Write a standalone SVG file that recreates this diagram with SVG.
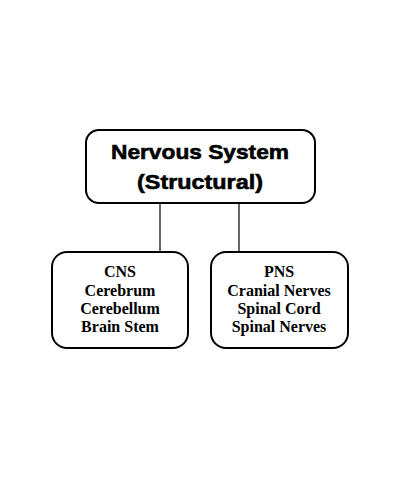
<svg xmlns="http://www.w3.org/2000/svg" width="400" height="480" viewBox="0 0 400 480">
<style>
.box{fill:#fff;stroke:#000;stroke-width:2}
.conn{stroke:#000;stroke-width:1.2;fill:none}
.title{font-family:"Liberation Sans",Arial,sans-serif;font-weight:bold;font-size:21px;text-anchor:middle;fill:#000;stroke:#000;stroke-width:0.6}
.sub{font-family:"Liberation Serif","Times New Roman",serif;font-weight:bold;font-size:16px;text-anchor:middle;fill:#000}
</style>
<rect width="400" height="480" fill="#fff"/>
<g id="connectors">
<line class="conn" x1="160" y1="204" x2="160" y2="252"/>
<line class="conn" x1="239" y1="204" x2="239" y2="252"/>
</g>
<g id="root">
<rect class="box" x="86" y="130" width="229" height="73" rx="13"/>
<text class="title" x="200" y="159" textLength="178" lengthAdjust="spacingAndGlyphs">Nervous System</text>
<text class="title" x="200" y="189" textLength="126" lengthAdjust="spacingAndGlyphs">(Structural)</text>
</g>
<g id="cns">
<rect class="box" x="52" y="252" width="136" height="96" rx="15"/>
<text class="sub" x="120" y="277">CNS</text>
<text class="sub" x="120" y="296">Cerebrum</text>
<text class="sub" x="120" y="314">Cerebellum</text>
<text class="sub" x="120" y="332">Brain Stem</text>
</g>
<g id="pns">
<rect class="box" x="211" y="252" width="137" height="96" rx="15"/>
<text class="sub" x="279" y="277">PNS</text>
<text class="sub" x="279" y="296">Cranial Nerves</text>
<text class="sub" x="279" y="314">Spinal Cord</text>
<text class="sub" x="279" y="332">Spinal Nerves</text>
</g>
</svg>
